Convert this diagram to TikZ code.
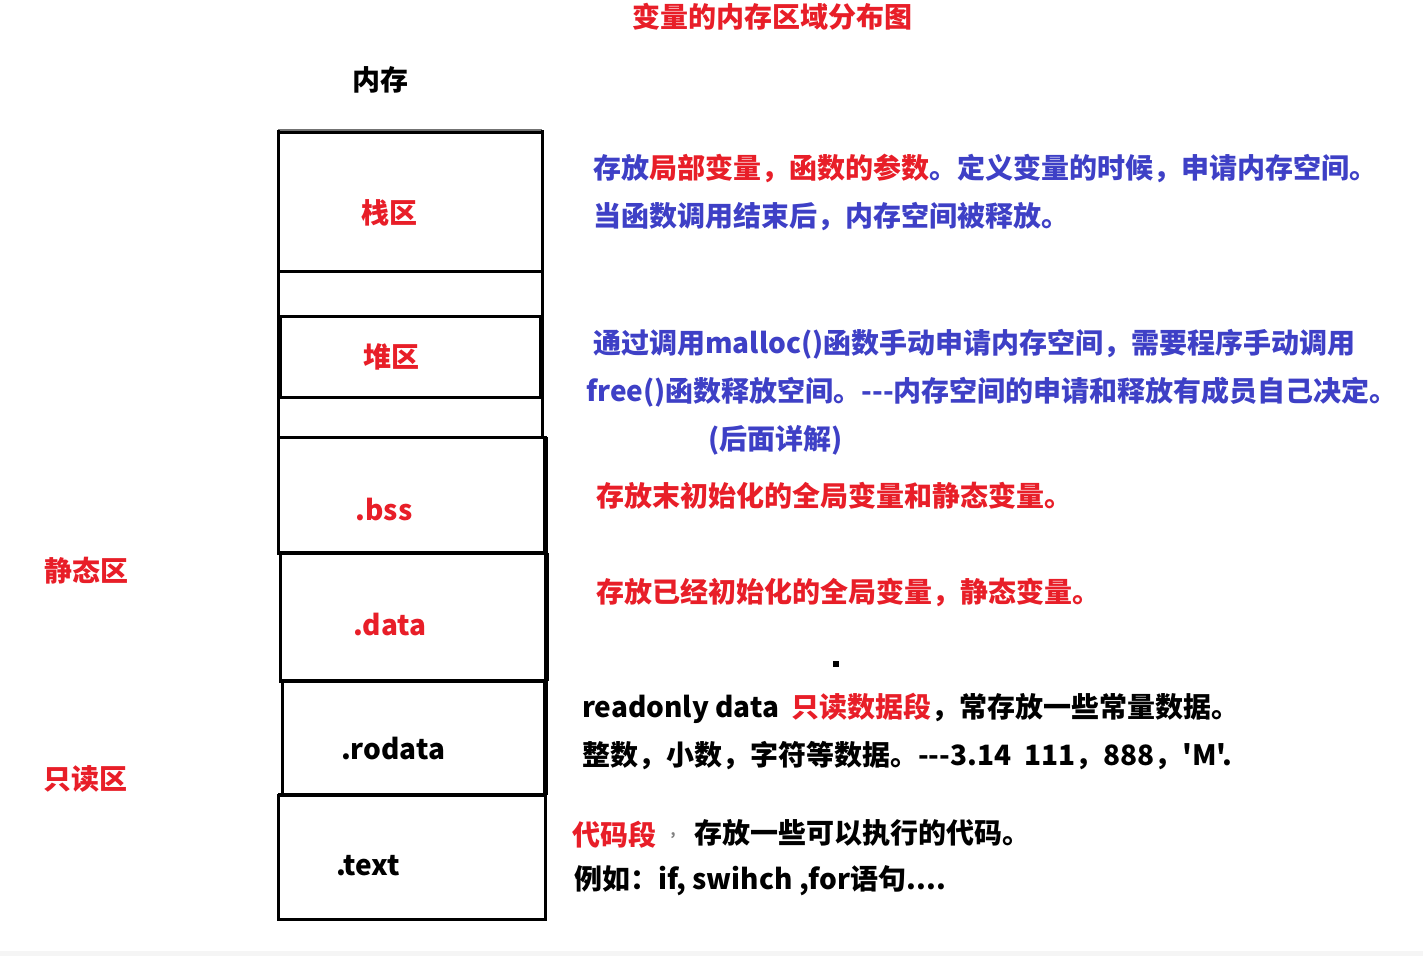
\documentclass[tikz,border=0pt]{standalone}
\usepackage{fontspec}
\setmainfont{Noto Sans CJK SC}
\newfontfamily\plaincjk{Noto Sans CJK SC}
\definecolor{myred}{RGB}{232,30,40}
\definecolor{myblue}{RGB}{62,64,198}
\tikzset{
  seg/.style={draw=black, line width=3pt, rectangle, inner sep=0pt, outer sep=0pt},
  lbl/.style={inner sep=0pt, font=\bfseries\fontsize{28}{32}\selectfont},
  txt/.style={inner sep=0pt, anchor=west, font=\bfseries\fontsize{28}{32}\selectfont},
}
\begin{document}
\begin{tikzpicture}[x=1pt,y=-1pt]
\useasboundingbox (0,0) rectangle (1423,956);
\fill[white] (0,0) rectangle (1423,956);
\fill[black!4] (0,951) rectangle (1423,956);

% title
\node[lbl, text=myred] (title) at (772,17) {变量的内存区域分布图};
\node[lbl] (mem) at (380,80) {内存};

% outer frame of upper part
\coordinate (tl) at (278,130);
\coordinate (tr) at (542,130);
\coordinate (bl) at (278,437);
\coordinate (br) at (542,437);
\draw[line width=3pt, black!55] (tl) -- (tr);
\draw[line width=3pt] (tl) -- (bl);
\draw[line width=3pt] (tr) -- (br);

% segments
\node[seg, minimum width=264pt, minimum height=139pt] (stack) at (410,201.5) {};
\node[seg, minimum width=260pt, minimum height=81pt] (heap) at (410,356.5) {};
\node[seg, minimum width=267pt, minimum height=116pt] (bss) at (411.5,495) {};
\node[seg, minimum width=266pt, minimum height=128pt] (data) at (413,617) {};
\node[seg, minimum width=263pt, minimum height=114pt] (rodata) at (413.5,738) {};
\node[seg, minimum width=267pt, minimum height=124pt] (text) at (411.5,857) {};
\draw[line width=5pt] (bss.north east) -- (bss.south east);
\draw[line width=5pt] (data.north east) -- (data.south east);
\draw[line width=5pt] (rodata.north east) -- (rodata.south east);
\draw[line width=4pt] (data.north west) -- (data.north east);
\draw[line width=4pt] (rodata.north west) -- (rodata.north east);
\draw[line width=4pt] (text.north west) -- (text.north east);

% segment labels
\node[lbl, text=myred] (lstack) at (389,213) {栈区};
\node[lbl, text=myred] (lheap) at (391,357) {堆区};
\node[lbl, text=myred] (lbss) at (384,510) {.bss};
\node[lbl, text=myred] (ldata) at (390,624) {.data};
\node[lbl] (lrodata) at (393,748) {.rodata};
\node[lbl] (ltext) at (368,866) {.text};

% side labels
\node[lbl, text=myred] (static) at (86,571) {静态区};
\node[lbl, text=myred] (readonly) at (85,779) {只读区};

% descriptions
\node[txt, text=myblue] (d1a) at (593,168) {存放\textcolor{myred}{局部变量，函数的参数}。定义变量的时候，申请内存空间。};
\node[txt, text=myblue] (d1b) at (593,217) {当函数调用结束后，内存空间被释放。};
\node[txt, text=myblue] (d2a) at (593,344) {通过调用malloc()函数手动申请内存空间，需要程序手动调用};
\node[txt, text=myblue] (d2b) at (586,392) {free()函数释放空间。-{}-{}-内存空间的申请和释放有成员自己决定。};
\node[txt, text=myblue] (d2c) at (708,440) {(后面详解)};
\node[txt, text=myred] (d3) at (596,496) {存放末初始化的全局变量和静态变量。};
\node[txt, text=myred] (d4) at (596,592) {存放已经初始化的全局变量，静态变量。};
\node[fill=black, minimum size=6pt, inner sep=0pt] (dot) at (836,664) {};
\node[txt] (d5a) at (582,708) {readonly data\ \ \textcolor{myred}{只读数据段}，常存放一些常量数据。};
\node[txt] (d5b) at (582,756) {整数，小数，字符等数据。-{}-{}-3.14\ \ 111，888，{\plaincjk\bfseries 'M'.}};
\node[txt, text=myred] (d6a) at (572,835) {代码段};
\node[inner sep=0pt, text=black!50, font=\bfseries\fontsize{14}{16}\selectfont] (comma) at (673,836) {,};
\node[txt] (d6b) at (694,833) {存放一些可以执行的代码。};
\node[txt] (d6c) at (574,881) {例如：if, swihch ,for语句....};
\end{tikzpicture}
\end{document}
